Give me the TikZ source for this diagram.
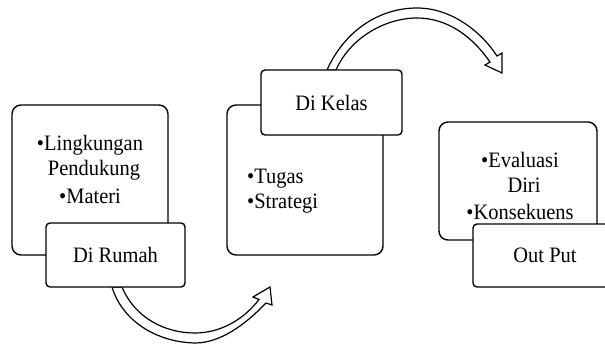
\documentclass[tikz,border=0pt]{standalone}
\usepackage{fontspec}
\setmainfont{Liberation Serif}[FakeStretch=0.93]
\begin{document}
\begin{tikzpicture}[x=1pt,y=-1pt,
  bigbox/.style={draw, line width=1.4pt, rounded corners=9pt, fill=white, inner sep=0pt},
  tagbox/.style={draw, line width=1.4pt, rounded corners=4pt, fill=white, inner sep=0pt,
                 font=\fontsize{22}{25}\selectfont},
  fatarrow/.style={draw, line width=1.2pt, fill=white, line join=miter},
  txt/.style={font=\fontsize{22}{25}\selectfont, inner sep=0pt}]
\useasboundingbox (0,0) rectangle (605,345);
\clip (0,0) rectangle (605,345);
\fill[white] (0,0) rectangle (605,345);

% large boxes
\node[bigbox, minimum width=156pt, minimum height=150pt] (homebox) at (90,180) {};
\node[bigbox, minimum width=156pt, minimum height=150pt] (classbox) at (305,180) {};
\node[bigbox, minimum width=158pt, minimum height=118pt] (outbox) at (518,181) {};

% texts of large boxes (base anchor = baseline of the last line)
\node[txt, align=center, anchor=base] (hometxt) at (90,203)
  {•Lingkungan\\ \hspace*{8pt}Pendukung\\[3pt] •Materi};
\node[txt, align=left, anchor=base west] (classtxt) at (247,208)
  {•Tugas\\ •Strategi};
\node[txt, align=center, anchor=base] (outtxt) at (520,219)
  {•Evaluasi\\ \hspace*{8pt}Diri\\[2pt] •Konsekuens};

% curved block arrows
\path[fatarrow] (112,287) .. controls (122,320) and (155,342) .. (195,343)
  .. controls (220,343) and (245,325) .. (266,303)
  -- (272,305) -- (270,287) -- (253,297) -- (259,299.5)
  .. controls (245,318) and (222,333) .. (195,333)
  .. controls (165,333) and (135,318) .. (122,287) -- cycle;
\path[fatarrow] (327,70) .. controls (345,30) and (380,8) .. (417,8)
  .. controls (450,8) and (480,30) .. (497,56)
  -- (502,53) -- (502,73) -- (485,65) -- (490,62)
  .. controls (472,36) and (447,18) .. (417,18)
  .. controls (385,18) and (350,38) .. (336,70) -- cycle;

% tag boxes
\node[tagbox, minimum width=139pt, minimum height=64pt] (rumah) at (115.5,255) {Di Rumah};
\node[tagbox, minimum width=141pt, minimum height=65pt] (kelas) at (331.5,102.5) {Di Kelas};
\node[tagbox, minimum width=144pt, minimum height=63pt] (output) at (545,255.5) {Out Put};
\end{tikzpicture}
\end{document}
